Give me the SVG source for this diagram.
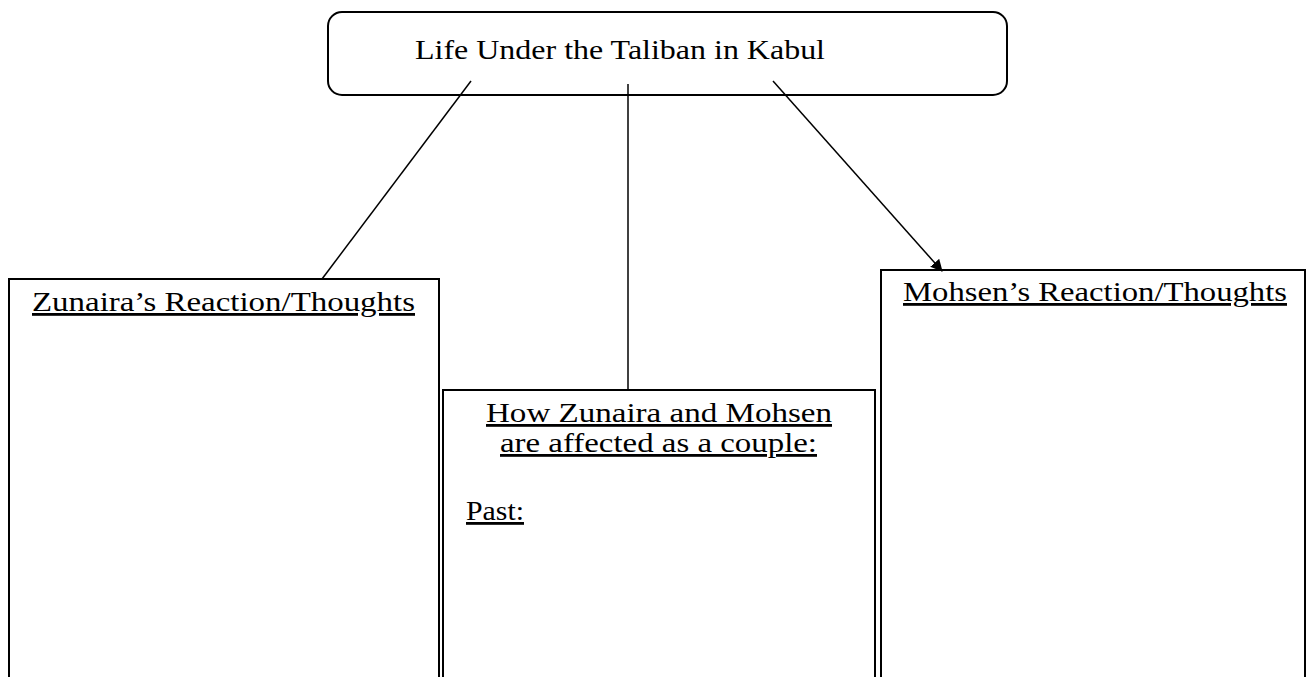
<svg xmlns="http://www.w3.org/2000/svg" width="1311" height="677" viewBox="0 0 1311 677">
<style>
.box{fill:#fff;stroke:#000;stroke-width:2}
.t{font-family:"Liberation Serif","Times New Roman",serif;font-size:28px;fill:#000}
.u{text-decoration:underline}
.c{stroke:#000;stroke-width:1.5;fill:none}
</style>
<defs>
<marker id="ah" markerWidth="12" markerHeight="12" refX="11" refY="6" orient="auto" markerUnits="userSpaceOnUse">
<path d="M0,0 L12,6 L0,12 z" fill="#000"/>
</marker>
</defs>
<rect width="1311" height="677" fill="#fff"/>
<g id="title">
<rect class="box" x="328" y="12" width="679" height="83" rx="14"/>
<text class="t" x="415" y="59" textLength="410" lengthAdjust="spacingAndGlyphs">Life Under the Taliban in Kabul</text>
</g>
<g id="zunaira">
<rect class="box" x="9" y="279" width="430" height="420"/>
<text class="t u" x="32" y="311" textLength="383" lengthAdjust="spacingAndGlyphs">Zunaira’s Reaction/Thoughts</text>
</g>
<g id="couple">
<rect class="box" x="443" y="390" width="432" height="310"/>
<text class="t u" x="486" y="422" textLength="346" lengthAdjust="spacingAndGlyphs">How Zunaira and Mohsen</text>
<text class="t u" x="500" y="452" textLength="317" lengthAdjust="spacingAndGlyphs">are affected as a couple:</text>
<text class="t u" x="466" y="520" textLength="58" lengthAdjust="spacingAndGlyphs">Past:</text>
</g>
<g id="mohsen">
<rect class="box" x="881" y="270" width="424" height="430"/>
<text class="t u" x="903" y="301" textLength="384" lengthAdjust="spacingAndGlyphs">Mohsen’s Reaction/Thoughts</text>
</g>
<g id="connectors">
<line class="c" x1="471" y1="81" x2="322" y2="279"/>
<line class="c" x1="628" y1="84" x2="628" y2="390"/>
<line class="c" x1="773" y1="81" x2="942" y2="271" marker-end="url(#ah)"/>
</g>
</svg>
